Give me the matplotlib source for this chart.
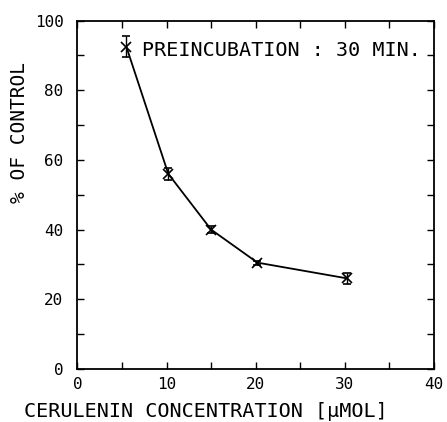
import numpy as np
import matplotlib
matplotlib.use('Agg')
import matplotlib.pyplot as plt

# cerulenin concentration (umol) vs % of control
conc = [5.5, 10.2, 15.0, 20.2, 30.2]
pct = [92.5, 56.0, 40.0, 30.5, 26.0]
err = [3.0, 1.8, 1.0, 0.6, 1.5]

plt.rcParams['font.family'] = ['DejaVu Sans Mono']

fig = plt.figure(figsize=(4.47, 4.22), dpi=100)
ax = fig.add_axes([0.173, 0.126, 0.798, 0.825])

ax.errorbar(conc, pct, yerr=err, color='black', lw=1.3, marker='x',
            ms=7, mew=1.2, capsize=3, elinewidth=1.0)

ax.text(7.3, 91.5, 'PREINCUBATION : 30 MIN.', fontsize=14.5, va='center')

ax.set_xlim(0, 40)
ax.set_ylim(0, 100)
ax.set_xticks(np.arange(0, 41, 10))
ax.set_xticks(np.arange(0, 41, 5), minor=True)
ax.set_yticks(np.arange(0, 101, 20))
ax.set_yticks(np.arange(0, 101, 10), minor=True)
ax.tick_params(which='both', direction='in', top=True, right=True,
               labelsize=11.5, width=1.0)
ax.tick_params(which='both', length=5)
ax.tick_params(axis='x', pad=6)
ax.tick_params(axis='y', pad=10)
for s in ax.spines.values():
    s.set_linewidth(1.3)

ax.set_xlabel('CERULENIN CONCENTRATION [\u03bcMOL]', fontsize=14.5, va='center')
ax.xaxis.set_label_coords(0.36, -0.124)
ax.set_ylabel('% OF CONTROL', fontsize=14, va='center')
ax.yaxis.set_label_coords(-0.161, 0.68)

plt.savefig('out.png', dpi=100)
